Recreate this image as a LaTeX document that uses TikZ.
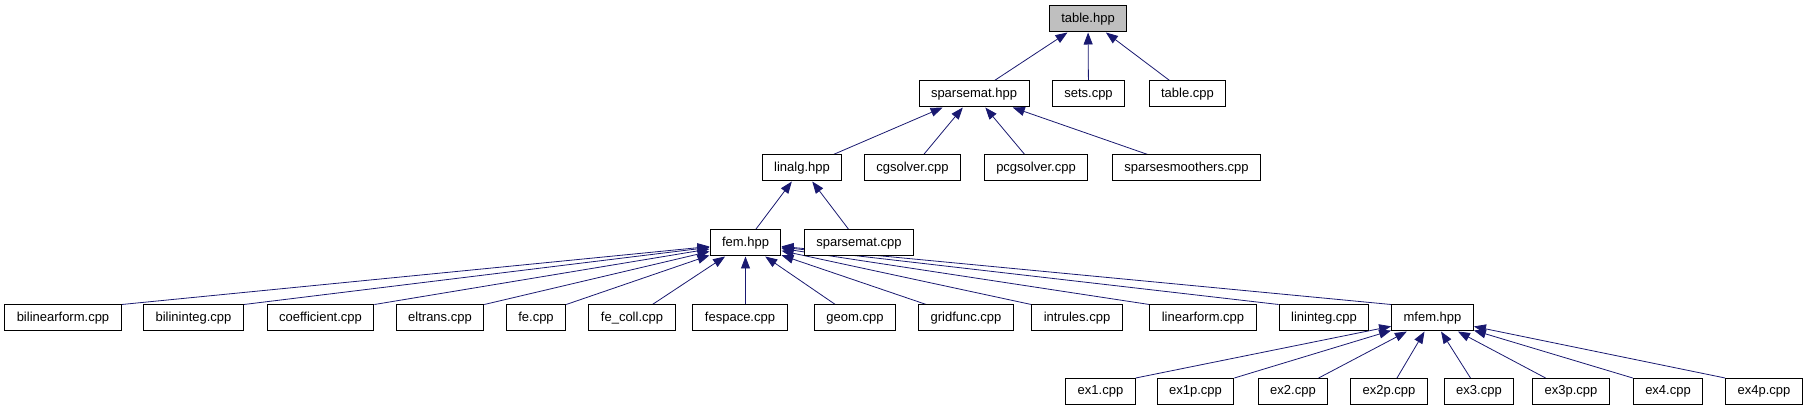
\documentclass[tikz,border=0pt]{standalone}
\usepackage{fontspec}
\setmainfont{Liberation Sans}
\usetikzlibrary{arrows.meta}
\pgfdeclarelayer{background}
\pgfsetlayers{background,main}
\definecolor{depblue}{HTML}{191970}
\definecolor{filegray}{HTML}{BFBFBF}

\begin{document}
\begin{tikzpicture}[
  x=1pt, y=-1pt,
  file/.style={draw=black, line width=1pt, fill=white, minimum height=26pt,
    inner xsep=12pt, inner ysep=0pt, text height=9.5pt, text depth=2.8pt,
    font=\fontsize{13}{15}\selectfont},
  dep/.style={draw=depblue, line width=0.8pt, -{Triangle[length=12pt,width=9pt]}}
  ]
  \useasboundingbox (0,0) rectangle (1805,411);

  % header that every file pulls in
  \node (tablehpp) [file, fill=filegray] at (1088,19) {table.hpp};

  \node (sparsemathpp) [file] at (974,94) {sparsemat.hpp};
  \node (setscpp) [file] at (1088.5,94) {sets.cpp};
  \node (tablecpp) [file] at (1187.5,94) {table.cpp};

  \node (linalghpp) [file] at (802,168) {linalg.hpp};
  \node (cgsolvercpp) [file] at (912.5,168) {cgsolver.cpp};
  \node (pcgsolvercpp) [file] at (1036,168) {pcgsolver.cpp};
  \node (smootherscpp) [file] at (1186.5,168) {sparsesmoothers.cpp};

  \node (femhpp) [file] at (745.5,243) {fem.hpp};
  \node (sparsematcpp) [file] at (859,243) {sparsemat.cpp};

  \node (bilinearformcpp) [file] at (63,318) {bilinearform.cpp};
  \node (bilintegcpp) [file] at (193.5,318) {bilininteg.cpp};
  \node (coefficientcpp) [file] at (320.5,318) {coefficient.cpp};
  \node (eltranscpp) [file] at (440,318) {eltrans.cpp};
  \node (fecpp) [file] at (536,318) {fe.cpp};
  \node (fecollcpp) [file] at (632,318) {fe\_coll.cpp};
  \node (fespacecpp) [file] at (740,318) {fespace.cpp};
  \node (geomcpp) [file] at (855,318) {geom.cpp};
  \node (gridfunccpp) [file] at (966,318) {gridfunc.cpp};
  \node (intrulescpp) [file] at (1077,318) {intrules.cpp};
  \node (linearformcpp) [file] at (1203,318) {linearform.cpp};
  \node (linintegcpp) [file] at (1324,318) {lininteg.cpp};
  \node (mfemhpp) [file] at (1432.5,318) {mfem.hpp};

  \node (exonecpp) [file] at (1100.5,391.5) {ex1.cpp};
  \node (exonepcpp) [file] at (1195.5,391.5) {ex1p.cpp};
  \node (extwocpp) [file] at (1293,391.5) {ex2.cpp};
  \node (extwopcpp) [file] at (1389,391.5) {ex2p.cpp};
  \node (exthreecpp) [file] at (1479,391.5) {ex3.cpp};
  \node (exthreepcpp) [file] at (1571,391.5) {ex3p.cpp};
  \node (exfourcpp) [file] at (1668,391.5) {ex4.cpp};
  \node (exfourpcpp) [file] at (1764,391.5) {ex4p.cpp};

  % include edges, child -> parent
  \begin{pgfonlayer}{background}
  \path [dep] (sparsemathpp) -- (tablehpp) ;
  \path [dep] (setscpp) -- (tablehpp) ;
  \path [dep] (tablecpp) -- (tablehpp) ;

  \path [dep] (linalghpp) -- (sparsemathpp) ;
  \path [dep] (cgsolvercpp) -- (sparsemathpp) ;
  \path [dep] (pcgsolvercpp) -- (sparsemathpp) ;
  \path [dep] (smootherscpp) -- (sparsemathpp) ;

  \path [dep] (femhpp) -- (linalghpp) ;
  \path [dep] (sparsematcpp) -- (linalghpp) ;

  \path [dep] (bilinearformcpp.north east) -- (femhpp) ;
  \path [dep] (bilintegcpp.north east) -- (femhpp) ;
  \path [dep] (coefficientcpp.north east) -- (femhpp) ;
  \path [dep] (eltranscpp.north east) -- (femhpp) ;
  \path [dep] (fecpp.north east) -- (femhpp) ;
  \path [dep] (fecollcpp) -- (femhpp) ;
  \path [dep] (femhpp |- fespacecpp.north) -- (femhpp) ;
  \path [dep] (geomcpp) -- (femhpp) ;
  \path [dep] (gridfunccpp) -- (femhpp) ;
  \path [dep] (intrulescpp.north west) -- (femhpp) ;
  \path [dep] (linearformcpp.north west) -- (femhpp) ;
  \path [dep] (linintegcpp.north west) -- (femhpp) ;
  \path [dep] (mfemhpp.north west) -- (femhpp) ;

  \path [dep] (exonecpp.north east) -- (mfemhpp) ;
  \path [dep] (exonepcpp.north east) -- (mfemhpp) ;
  \path [dep] (extwocpp) -- (mfemhpp) ;
  \path [dep] (extwopcpp) -- (mfemhpp) ;
  \path [dep] (exthreecpp) -- (mfemhpp) ;
  \path [dep] (exthreepcpp) -- (mfemhpp) ;
  \path [dep] (exfourcpp.north west) -- (mfemhpp) ;
  \path [dep] (exfourpcpp.north west) -- (mfemhpp) ;
  \end{pgfonlayer}
\end{tikzpicture}
\end{document}
